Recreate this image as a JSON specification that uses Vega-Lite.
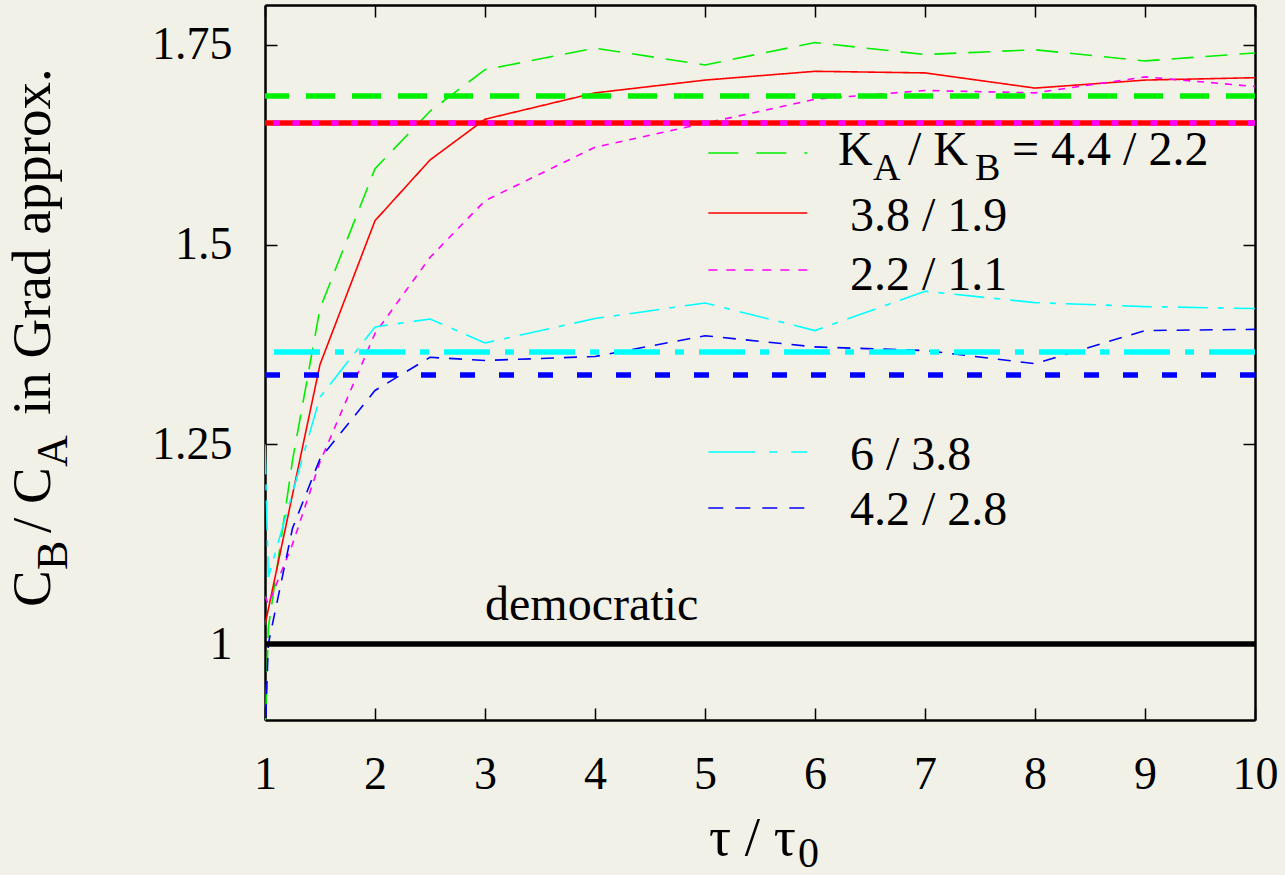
{
  "$schema": "https://vega.github.io/schema/vega-lite/v6.json",
  "width": 990,
  "height": 715,
  "autosize": {"type": "none"},
  "padding": {"left": 265, "top": 5, "right": 30, "bottom": 155},
  "background": "#f2f1e7",
  "config": {
    "view": {"stroke": null},
    "font": "Liberation Serif, Times New Roman, serif",
    "axis": {
      "grid": false,
      "domainColor": "black",
      "domainWidth": 2.5,
      "tickColor": "black",
      "tickWidth": 1.5,
      "labelFont": "Liberation Serif, Times New Roman, serif",
      "labelFontSize": 46,
      "labelColor": "black",
      "title": null
    },
    "text": {"font": "Liberation Serif, Times New Roman, serif", "color": "black"}
  },
  "datasets": {
    "curves": [
      {"s": "g", "x": 1, "y": 0.88}, {"s": "g", "x": 1.03, "y": 1.02}, {"s": "g", "x": 1.25, "y": 1.23}, {"s": "g", "x": 1.5, "y": 1.42},
      {"s": "g", "x": 2, "y": 1.595}, {"s": "g", "x": 2.5, "y": 1.667}, {"s": "g", "x": 3, "y": 1.719}, {"s": "g", "x": 4, "y": 1.746},
      {"s": "g", "x": 5, "y": 1.725}, {"s": "g", "x": 6, "y": 1.753}, {"s": "g", "x": 7, "y": 1.738}, {"s": "g", "x": 8, "y": 1.744},
      {"s": "g", "x": 9, "y": 1.73}, {"s": "g", "x": 10, "y": 1.74},
      {"s": "r", "x": 1, "y": 1.024}, {"s": "r", "x": 1.5, "y": 1.35}, {"s": "r", "x": 2, "y": 1.53}, {"s": "r", "x": 2.5, "y": 1.606},
      {"s": "r", "x": 3, "y": 1.657}, {"s": "r", "x": 4, "y": 1.69}, {"s": "r", "x": 5, "y": 1.706}, {"s": "r", "x": 6, "y": 1.717},
      {"s": "r", "x": 7, "y": 1.715}, {"s": "r", "x": 8, "y": 1.696}, {"s": "r", "x": 9, "y": 1.706}, {"s": "r", "x": 10, "y": 1.709},
      {"s": "m", "x": 1, "y": 1.06}, {"s": "m", "x": 1.03, "y": 1.05}, {"s": "m", "x": 1.25, "y": 1.125}, {"s": "m", "x": 1.5, "y": 1.228},
      {"s": "m", "x": 2, "y": 1.389}, {"s": "m", "x": 2.5, "y": 1.484}, {"s": "m", "x": 3, "y": 1.555}, {"s": "m", "x": 4, "y": 1.622},
      {"s": "m", "x": 5, "y": 1.652}, {"s": "m", "x": 6, "y": 1.682}, {"s": "m", "x": 7, "y": 1.693}, {"s": "m", "x": 8, "y": 1.69},
      {"s": "m", "x": 9, "y": 1.71}, {"s": "m", "x": 10, "y": 1.698},
      {"s": "c", "x": 1, "y": 1.25}, {"s": "c", "x": 1.03, "y": 1.084}, {"s": "c", "x": 1.5, "y": 1.309}, {"s": "c", "x": 2, "y": 1.397},
      {"s": "c", "x": 2.5, "y": 1.407}, {"s": "c", "x": 3, "y": 1.377}, {"s": "c", "x": 4, "y": 1.4075}, {"s": "c", "x": 5, "y": 1.427},
      {"s": "c", "x": 6, "y": 1.3925}, {"s": "c", "x": 7, "y": 1.4417}, {"s": "c", "x": 8, "y": 1.4275}, {"s": "c", "x": 9, "y": 1.4225},
      {"s": "c", "x": 10, "y": 1.42},
      {"s": "b", "x": 1, "y": 0.88}, {"s": "b", "x": 1.03, "y": 1.0}, {"s": "b", "x": 1.25, "y": 1.145}, {"s": "b", "x": 1.5, "y": 1.232},
      {"s": "b", "x": 2, "y": 1.3175}, {"s": "b", "x": 2.5, "y": 1.359}, {"s": "b", "x": 3, "y": 1.355}, {"s": "b", "x": 4, "y": 1.36},
      {"s": "b", "x": 5, "y": 1.386}, {"s": "b", "x": 6, "y": 1.372}, {"s": "b", "x": 7, "y": 1.3675}, {"s": "b", "x": 8, "y": 1.351},
      {"s": "b", "x": 9, "y": 1.3925}, {"s": "b", "x": 10, "y": 1.394}
    ],
    "theory": [
      {"s": "g", "y": 1.6861},
      {"s": "r", "y": 1.6523},
      {"s": "m", "y": 1.6523},
      {"s": "c", "y": 1.3657},
      {"s": "b", "y": 1.3369},
      {"s": "k", "y": 1.0}
    ],
    "legend": [
      {"s": "g", "x1": 5.03, "x2": 5.93, "y": 1.6147},
      {"s": "r", "x1": 5.03, "x2": 5.93, "y": 1.5396},
      {"s": "m", "x1": 5.03, "x2": 5.93, "y": 1.4683},
      {"s": "c", "x1": 5.03, "x2": 5.93, "y": 1.2405},
      {"s": "b", "x1": 5.03, "x2": 5.93, "y": 1.1704}
    ],
    "labels": [
      {"t": "K", "x": 6.209, "y": 1.5997},
      {"t": "/ K", "x": 6.845, "y": 1.5997},
      {"t": "= 4.4 / 2.2", "x": 7.791, "y": 1.5997},
      {"t": "3.8 / 1.9", "x": 6.318, "y": 1.5165},
      {"t": "2.2 / 1.1", "x": 6.318, "y": 1.4433},
      {"t": "6 / 3.8", "x": 6.318, "y": 1.218},
      {"t": "4.2 / 2.8", "x": 6.318, "y": 1.1491},
      {"t": "democratic", "x": 3.0, "y": 1.0302}
    ],
    "labelsubs": [
      {"t": "A", "x": 6.527, "y": 1.581},
      {"t": "B", "x": 7.4545, "y": 1.581}
    ],
    "xtitle": [
      {"t": "τ / τ", "x": 5.036, "y": 0.736}
    ],
    "xtitlesub": [
      {"t": "0", "x": 5.845, "y": 0.721}
    ],
    "ytitle": [
      {"t": "C", "x": -0.9545, "y": 1.0465},
      {"t": "/ C", "x": -0.9545, "y": 1.1391},
      {"t": "in Grad approx.", "x": -0.9545, "y": 1.2868}
    ],
    "ytitlesub": [
      {"t": "B", "x": -0.80, "y": 1.0928},
      {"t": "A", "x": -0.80, "y": 1.2217}
    ]
  },
  "resolve": {
    "scale": {"strokeDash": "independent"},
    "axis": {"x": "independent", "y": "independent"}
  },
  "layer": [
    {
      "data": {"name": "curves"},
      "mark": {"type": "line", "clip": true, "strokeWidth": 1.6},
      "encoding": {
        "x": {"field": "x", "type": "quantitative", "scale": {"domain": [1, 10], "nice": false, "zero": false},
              "axis": {"orient": "bottom", "values": [1, 2, 3, 4, 5, 6, 7, 8, 9, 10], "tickSize": -12, "labelPadding": 44, "labelFlush": false, "labelExpr": "'' + datum.value"}},
        "y": {"field": "y", "type": "quantitative", "scale": {"domain": [0.905, 1.8], "nice": false, "zero": false},
              "axis": {"orient": "left", "values": [1, 1.25, 1.5, 1.75], "tickSize": -12, "labelPadding": 45, "labelExpr": "'' + datum.value"}},
        "color": {"field": "s", "type": "nominal", "legend": null,
                  "scale": {"domain": ["g", "r", "m", "c", "b", "k"], "range": ["#00ee00", "#ff0000", "#ff00ff", "#00ffff", "#0000ff", "#000000"]}},
        "strokeDash": {"field": "s", "type": "nominal", "legend": null,
                       "scale": {"domain": ["g", "r", "m", "c", "b"], "range": [[22, 12], [1, 0], [7, 7], [30, 10, 6, 10], [13, 10]]}},
        "detail": {"field": "s"},
        "order": {"field": "x", "type": "quantitative"}
      }
    },
    {
      "data": {"name": "theory"},
      "mark": {"type": "rule", "strokeWidth": 5.5},
      "encoding": {
        "y": {"field": "y", "type": "quantitative", "axis": null},
        "color": {"field": "s", "type": "nominal", "legend": null},
        "strokeDash": {"field": "s", "type": "nominal", "legend": null,
                       "scale": {"domain": ["g", "r", "m", "c", "b", "k"], "range": [[29, 17], [1, 0], [7, 12.5], [46, 15, 9, 15], [15, 24], [1, 0]]}}
      }
    },
    {
      "data": {"name": "legend"},
      "mark": {"type": "rule", "strokeWidth": 1.6},
      "encoding": {
        "x": {"field": "x1", "type": "quantitative",
              "axis": {"orient": "top", "values": [1, 2, 3, 4, 5, 6, 7, 8, 9, 10], "tickSize": -12, "labels": false}},
        "x2": {"field": "x2"},
        "y": {"field": "y", "type": "quantitative",
              "axis": {"orient": "right", "values": [1, 1.25, 1.5, 1.75], "tickSize": -12, "labels": false}},
        "color": {"field": "s", "type": "nominal", "legend": null},
        "strokeDash": {"field": "s", "type": "nominal", "legend": null,
                       "scale": {"domain": ["g", "r", "m", "c", "b"], "range": [[30, 18], [1, 0], [9, 9], [47, 14, 8, 14], [15, 12]]}}
      }
    },
    {
      "data": {"name": "labels"},
      "mark": {"type": "text", "align": "left", "baseline": "alphabetic", "fontSize": 48},
      "encoding": {
        "x": {"field": "x", "type": "quantitative", "axis": null},
        "y": {"field": "y", "type": "quantitative", "axis": null},
        "text": {"field": "t"}
      }
    },
    {
      "data": {"name": "labelsubs"},
      "mark": {"type": "text", "align": "left", "baseline": "alphabetic", "fontSize": 38},
      "encoding": {
        "x": {"field": "x", "type": "quantitative", "axis": null},
        "y": {"field": "y", "type": "quantitative", "axis": null},
        "text": {"field": "t"}
      }
    },
    {
      "data": {"name": "xtitle"},
      "mark": {"type": "text", "align": "left", "baseline": "alphabetic", "fontSize": 55},
      "encoding": {
        "x": {"field": "x", "type": "quantitative", "axis": null},
        "y": {"field": "y", "type": "quantitative", "axis": null},
        "text": {"field": "t"}
      }
    },
    {
      "data": {"name": "xtitlesub"},
      "mark": {"type": "text", "align": "left", "baseline": "alphabetic", "fontSize": 42},
      "encoding": {
        "x": {"field": "x", "type": "quantitative", "axis": null},
        "y": {"field": "y", "type": "quantitative", "axis": null},
        "text": {"field": "t"}
      }
    },
    {
      "data": {"name": "ytitle"},
      "mark": {"type": "text", "align": "left", "baseline": "alphabetic", "angle": 270, "fontSize": 55},
      "encoding": {
        "x": {"field": "x", "type": "quantitative", "axis": null},
        "y": {"field": "y", "type": "quantitative", "axis": null},
        "text": {"field": "t"}
      }
    },
    {
      "data": {"name": "ytitlesub"},
      "mark": {"type": "text", "align": "left", "baseline": "alphabetic", "angle": 270, "fontSize": 44},
      "encoding": {
        "x": {"field": "x", "type": "quantitative", "axis": null},
        "y": {"field": "y", "type": "quantitative", "axis": null},
        "text": {"field": "t"}
      }
    }
  ]
}
